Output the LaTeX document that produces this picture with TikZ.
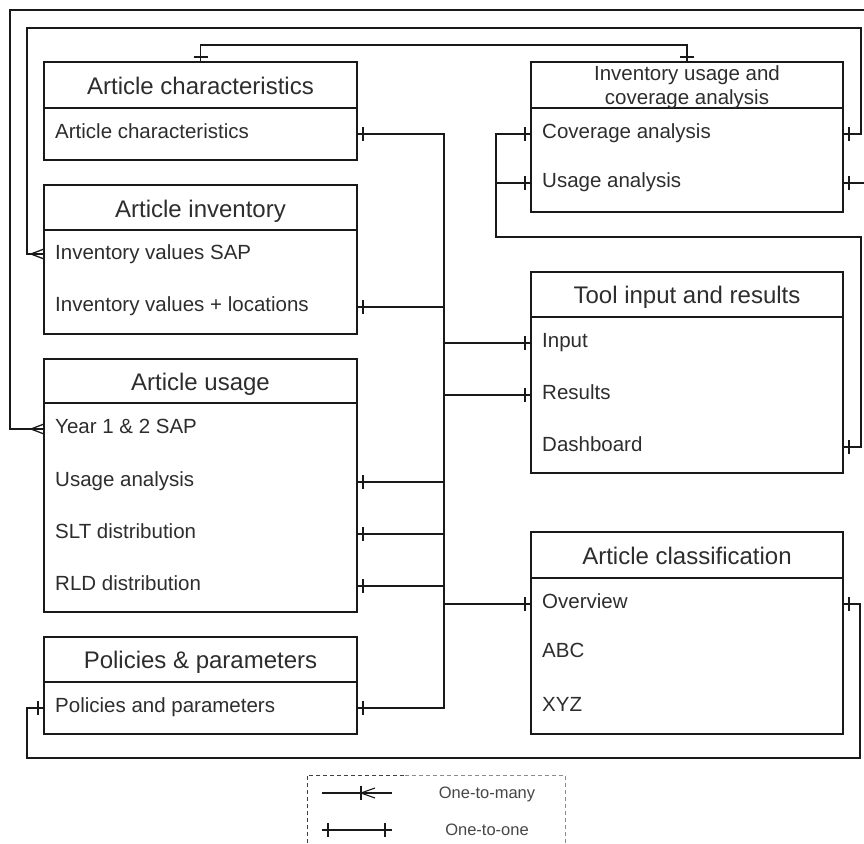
\documentclass[tikz,border=0pt]{standalone}
\usepackage{fontspec}
\setmainfont{Liberation Sans}
\usetikzlibrary{calc}
\definecolor{txt}{RGB}{45,45,45}
\definecolor{leg}{RGB}{70,70,70}
\definecolor{ln}{RGB}{25,25,25}
\tikzset{
  line/.style={draw=ln, line width=1.3pt},
  ent/.style={draw=ln, line width=1.4pt, anchor=north west, inner sep=0pt, outer sep=0pt},
  sep/.style={draw=ln, line width=1.4pt},
  hdr/.style={font=\fontsize{24}{28}\selectfont, text=txt, anchor=base, inner sep=0pt},
  hdrs/.style={font=\fontsize{20.5}{24}\selectfont, text=txt, anchor=base, inner sep=0pt},
  row/.style={font=\fontsize{20.5}{24}\selectfont, text=txt, anchor=base west, inner sep=0pt},
  legtext/.style={font=\fontsize{16.5}{20}\selectfont, text=leg, anchor=base, inner sep=0pt},
  one/.pic={\draw[line] (0,-7) -- (0,7);},
  many/.pic={\draw[line] (-13,0) -- (0,-5) (-13,0) -- (0,5);},
}
\begin{document}
\begin{tikzpicture}[x=1pt, y=-1pt]
\useasboundingbox (0,0) rectangle (864,843);

% ---------- entity boxes ----------
\node[ent, minimum width=313pt, minimum height=98pt]  (AC) at (44,62)  {};
\node[ent, minimum width=313pt, minimum height=149pt] (AI) at (44,185) {};
\node[ent, minimum width=313pt, minimum height=253pt] (AU) at (44,359) {};
\node[ent, minimum width=313pt, minimum height=97pt]  (PP) at (44,637) {};
\node[ent, minimum width=312pt, minimum height=150pt] (IU) at (531,62)  {};
\node[ent, minimum width=312pt, minimum height=201pt] (TI) at (531,272) {};
\node[ent, minimum width=312pt, minimum height=202pt] (CL) at (531,532) {};

% header separators
\draw[sep] (AC.west |- 0,108) -- (AC.east |- 0,108);
\draw[sep] (AI.west |- 0,230) -- (AI.east |- 0,230);
\draw[sep] (AU.west |- 0,403) -- (AU.east |- 0,403);
\draw[sep] (PP.west |- 0,682) -- (PP.east |- 0,682);
\draw[sep] (IU.west |- 0,108) -- (IU.east |- 0,108);
\draw[sep] (TI.west |- 0,317) -- (TI.east |- 0,317);
\draw[sep] (CL.west |- 0,578) -- (CL.east |- 0,578);

% headers
\node[hdr] (hAC) at (200.5,94.5) {Article characteristics};
\node[hdr] (hAI) at (200.5,217) {Article inventory};
\node[hdr] (hAU) at (200.5,390.5) {Article usage};
\node[hdr] (hPP) at (200.5,668.5) {Policies \& parameters};
\node[hdrs] (hIU1) at (687,81) {Inventory usage and};
\node[hdrs] (hIU2) at (687,104) {coverage analysis};
\node[hdr] (hTI) at (687,303.5) {Tool input and results};
\node[hdr] (hCL) at (687,564) {Article classification};

% rows
\node[row] (rAC1) at (55,138.5) {Article characteristics};
\node[row] (rAI1) at (55,259.5) {Inventory values SAP};
\node[row] (rAI2) at (55,311.5) {Inventory values + locations};
\node[row] (rAU1) at (55,433.5) {Year 1 \& 2 SAP};
\node[row] (rAU2) at (55,486.5) {Usage analysis};
\node[row] (rAU3) at (55,538.5) {SLT distribution};
\node[row] (rAU4) at (55,590.5) {RLD distribution};
\node[row] (rPP1) at (55,712.5) {Policies and parameters};
\node[row] (rIU1) at (542,138.5) {Coverage analysis};
\node[row] (rIU2) at (542,187.5) {Usage analysis};
\node[row] (rTI1) at (542,347.5) {Input};
\node[row] (rTI2) at (542,399.5) {Results};
\node[row] (rTI3) at (542,451.5) {Dashboard};
\node[row] (rCL1) at (542,608.5) {Overview};
\node[row] (rCL2) at (542,657.5) {ABC};
\node[row] (rCL3) at (542,711.5) {XYZ};

% ---------- ports ----------
\coordinate (pAC)  at (AC.east |- 0,134);
\coordinate (pAI)  at (AI.east |- 0,307);
\coordinate (pAIs) at (AI.west |- 0,254);
\coordinate (pAUy) at (AU.west |- 0,429);
\coordinate (pAU2) at (AU.east |- 0,482);
\coordinate (pAU3) at (AU.east |- 0,534);
\coordinate (pAU4) at (AU.east |- 0,586);
\coordinate (pPP)  at (PP.east |- 0,708);
\coordinate (pPPl) at (PP.west |- 0,708);
\coordinate (pIUc) at (IU.east |- 0,134);
\coordinate (pIUu) at (IU.east |- 0,183);
\coordinate (pIUcl) at (IU.west |- 0,134);
\coordinate (pIUul) at (IU.west |- 0,183);
\coordinate (pTI1) at (TI.west |- 0,343);
\coordinate (pTI2) at (TI.west |- 0,395);
\coordinate (pTI3) at (TI.east |- 0,447);
\coordinate (pCLl) at (CL.west |- 0,604);
\coordinate (pCLr) at (CL.east |- 0,604);
\coordinate (trunk) at (444,134);

% ---------- connectors ----------
% top link
\draw[line] (AC.north) -- (200.5,45) -| (IU.north);
\pic[rotate=90] at (200.5,57) {one};
\pic[rotate=90] at (687,57) {one};

% coverage -> inventory values SAP
\draw[line] (pIUc) -- (861,134) |- (27,28) |- (pAIs);
\pic at ($(pIUc)+(6,0)$) {one};
\pic at (pAIs) {many};

% usage analysis -> year 1 & 2 (outer loop, right side runs past the edge)
\draw[line] (pIUu) -- (868,183) |- (10,10) |- (pAUy);
\pic at ($(pIUu)+(6,0)$) {one};
\pic at (pAUy) {many};

% trunk
\draw[line] (pAC) -- (trunk) -- (trunk |- pPP) -- (pPP);
\draw[line] (pAI) -- (trunk |- pAI);
\draw[line] (pAU2) -- (trunk |- pAU2);
\draw[line] (pAU3) -- (trunk |- pAU3);
\draw[line] (pAU4) -- (trunk |- pAU4);
\draw[line] (trunk |- pTI1) -- (pTI1);
\draw[line] (trunk |- pTI2) -- (pTI2);
\draw[line] (trunk |- pCLl) -- (pCLl);
\foreach \p in {pAC,pAI,pAU2,pAU3,pAU4,pPP}{\pic at ($(\p)+(6,0)$) {one};}
\foreach \p in {pTI1,pTI2,pCLl,pIUcl,pIUul}{\pic at ($(\p)+(-6,0)$) {one};}

% dashboard -> coverage / usage analysis
\draw[line] (pTI3) -- (861,447) |- (496,237) |- (pIUcl);
\draw[line] (496,183) -- (pIUul);
\pic at ($(pTI3)+(6,0)$) {one};

% policies -> overview
\draw[line] (pPPl) -- (27,708) |- (860,758) |- (pCLr);
\pic at ($(pPPl)+(-6,0)$) {one};
\pic at ($(pCLr)+(6,0)$) {one};

% ---------- legend ----------
\draw[black!75, line width=1pt, dash pattern=on 4pt off 3pt] (307,843) -- (307,775) -- (405,775);
\draw[black!45, line width=1pt, dash pattern=on 4pt off 3pt] (405,775) -- (565,775) -- (565,843);
\coordinate (l1a) at (322,793);
\coordinate (l1b) at (392,793);
\coordinate (l2a) at (322,830);
\coordinate (l2b) at (392,830);
\draw[line, line width=1.1pt] (l1a) -- (l1b);
\draw[line, line width=1.1pt] (361,786) -- (361,800);
\draw[line, line width=1.1pt] (361,793) -- (375,788) (361,793) -- (375,798);
\draw[line, line width=1.1pt] (l2a) -- (l2b);
\draw[line, line width=1.1pt] (328,823) -- (328,837) (385,823) -- (385,837);
\node[legtext] (lg1) at (487,798) {One-to-many};
\node[legtext] (lg2) at (487,835) {One-to-one};
\end{tikzpicture}
\end{document}
